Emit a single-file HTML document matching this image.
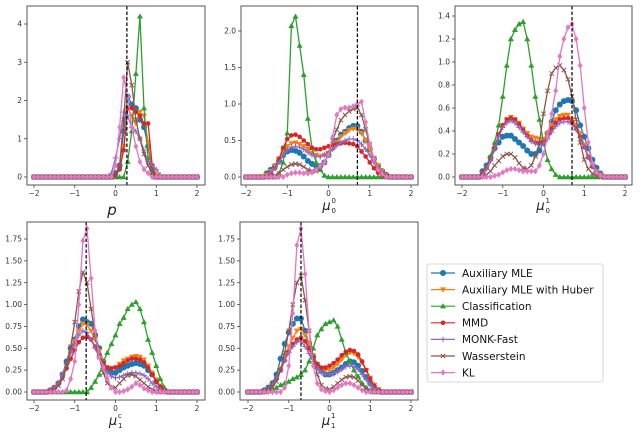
<!DOCTYPE html>
<html><head><meta charset="utf-8">
<style>
body{margin:0;background:#fff;width:640px;height:438px;overflow:hidden}
svg{display:block}
text{font-family:"DejaVu Sans","Liberation Sans",sans-serif}
</style></head>
<body>
<svg id="chart" width="640" height="438" viewBox="0 0 640 438" xmlns="http://www.w3.org/2000/svg"></svg>
<script>
const seriesNames = ["Auxiliary MLE","Auxiliary MLE with Huber","Classification","MMD","MONK-Fast","Wasserstein","KL"];
const xMin = -2, xMax = 2, xStep = 0.1;
const xTicks = [-2,-1,0,1,2];
const trueP = 0.28, trueMu00 = 0.7, trueMu01 = 0.7, trueMu1c = -0.72, trueMu11 = -0.7;

const p_blue   = [0,0,0,0,0,0,0,0,0,0, 0,0,0,0,0,0,0,0,0,0, 0.1,0.3,1.2,2.1,1.9,1.8,1.5,1.3,0.8,0.2, 0,0,0,0,0,0,0,0,0,0,0];
const p_orange = [0,0,0,0,0,0,0,0,0,0, 0,0,0,0,0,0,0,0,0,0, 0.05,0.2,0.8,1.8,1.6,1.4,1.7,1.6,0.9,0.3, 0.05,0,0,0,0,0,0,0,0,0,0];
const p_green  = [0,0,0,0,0,0,0,0,0,0, 0,0,0,0,0,0,0,0,0,0, 0,0,0,0.4,1.2,2.7,4.2,1.8,0.5,0.1, 0,0,0,0,0,0,0,0,0,0,0];
const p_red    = [0,0,0,0,0,0,0,0,0,0, 0,0,0,0,0,0,0,0,0,0, 0.05,0.2,0.7,1.8,1.8,1.7,1.6,1.4,1.4,0.3, 0,0,0,0,0,0,0,0,0,0,0];
const p_purple = [0,0,0,0,0,0,0,0,0,0, 0,0,0,0,0,0,0,0,0,0.1, 0.5,1.0,1.7,1.6,1.3,1.2,1.0,0.7,0.4,0.3, 0.2,0.05,0,0,0,0,0,0,0,0,0];
const p_brown  = [0,0,0,0,0,0,0,0,0,0, 0,0,0,0,0,0,0,0,0,0, 0,0.3,1.5,3.0,2.4,1.5,1.0,0.6,0.3,0.1, 0,0,0,0,0,0,0,0,0,0,0];
const p_pink   = [0,0,0,0,0,0,0,0,0,0, 0,0,0,0,0,0,0,0,0,0, 0.3,1.3,2.6,2.1,1.3,0.8,0.4,0.2,0.1,0, 0,0,0,0,0,0,0,0,0,0,0];

const m00_blue   = [0,0,0,0,0,0.05,0.1,0.15,0.22,0.3, 0.35,0.37,0.36,0.33,0.28,0.22,0.18,0.15,0.15,0.2, 0.3,0.4,0.5,0.58,0.62,0.67,0.7,0.7,0.62,0.5, 0.38,0.25,0.15,0.08,0.03,0,0,0,0,0,0];
const m00_orange = [0,0,0,0,0.01,0.03,0.08,0.15,0.25,0.35, 0.42,0.46,0.47,0.45,0.42,0.38,0.33,0.3,0.28,0.3, 0.33,0.4,0.48,0.55,0.6,0.64,0.66,0.65,0.6,0.5, 0.38,0.26,0.16,0.08,0.03,0,0,0,0,0,0];
const m00_green  = [0,0,0,0,0,0,0,0,0.05,0.2, 0.6,2.07,2.2,1.8,1.4,0.8,0.4,0.2,0.1,0.02, 0,0,0,0,0,0,0,0,0,0, 0,0,0,0,0,0,0,0,0,0,0];
const m00_red    = [0,0,0,0,0,0,0.05,0.12,0.25,0.4, 0.52,0.57,0.58,0.55,0.5,0.45,0.4,0.38,0.38,0.4, 0.42,0.44,0.45,0.46,0.47,0.46,0.45,0.42,0.35,0.28, 0.2,0.12,0.06,0.02,0,0,0,0,0,0,0];
const m00_purple = [0,0,0,0,0,0.02,0.06,0.12,0.2,0.3, 0.37,0.41,0.42,0.41,0.38,0.34,0.3,0.28,0.28,0.3, 0.33,0.38,0.43,0.47,0.5,0.52,0.52,0.5,0.45,0.38, 0.3,0.2,0.12,0.06,0.02,0,0,0,0,0,0];
const m00_brown  = [0,0,0,0,0,0,0,0.02,0.05,0.1, 0.14,0.17,0.18,0.17,0.14,0.1,0.08,0.08,0.12,0.2, 0.32,0.5,0.65,0.78,0.85,0.9,0.93,0.95,0.85,0.65, 0.45,0.25,0.12,0.05,0.02,0,0,0,0,0,0];
const m00_pink   = [0,0,0,0,0,0,0,0,0,0, 0.03,0.05,0.06,0.06,0.05,0.05,0.06,0.1,0.15,0.2, 0.3,0.55,0.85,0.93,0.95,0.95,0.97,1.0,1.03,0.75, 0.45,0.25,0.1,0.04,0,0,0,0,0,0,0];

const m01_blue   = [0,0,0,0,0,0.05,0.1,0.17,0.25,0.3, 0.35,0.36,0.36,0.33,0.3,0.27,0.23,0.2,0.2,0.23, 0.3,0.38,0.48,0.58,0.63,0.66,0.67,0.66,0.58,0.45, 0.35,0.25,0.15,0.08,0.03,0,0,0,0,0,0];
const m01_orange = [0,0,0,0,0,0.03,0.08,0.15,0.25,0.37, 0.45,0.5,0.52,0.5,0.47,0.42,0.38,0.35,0.34,0.33, 0.33,0.38,0.45,0.5,0.53,0.54,0.54,0.5,0.45,0.38, 0.28,0.18,0.1,0.05,0.02,0,0,0,0,0,0];
const m01_green  = [0,0,0,0,0,0.03,0.08,0.18,0.3,0.45, 0.7,0.97,1.2,1.28,1.33,1.35,1.2,0.97,0.7,0.5, 0.3,0.15,0.07,0.02,0,0,0,0,0,0, 0,0,0,0,0,0,0,0,0,0,0];
const m01_red    = [0,0,0,0,0,0.03,0.08,0.15,0.25,0.37, 0.45,0.5,0.51,0.5,0.46,0.41,0.36,0.32,0.3,0.29, 0.3,0.35,0.42,0.47,0.5,0.51,0.51,0.48,0.42,0.35, 0.26,0.17,0.09,0.04,0.01,0,0,0,0,0,0];
const m01_purple = [0,0,0,0,0,0.02,0.07,0.14,0.24,0.35, 0.43,0.47,0.49,0.47,0.43,0.39,0.35,0.31,0.29,0.28, 0.29,0.33,0.39,0.44,0.47,0.48,0.48,0.46,0.41,0.34, 0.26,0.17,0.1,0.05,0.02,0,0,0,0,0,0];
const m01_brown  = [0,0,0,0,0,0,0.02,0.05,0.1,0.14, 0.18,0.2,0.2,0.17,0.12,0.08,0.07,0.1,0.18,0.3, 0.55,0.75,0.9,0.95,0.97,0.93,0.85,0.7,0.5,0.3, 0.15,0.07,0.03,0.01,0,0,0,0,0,0,0];
const m01_pink   = [0,0,0,0,0,0,0,0,0.01,0.02, 0.04,0.06,0.07,0.07,0.06,0.05,0.05,0.05,0.05,0.1, 0.2,0.35,0.55,0.75,1.05,1.2,1.3,1.33,1.2,0.97, 0.6,0.3,0.12,0.04,0.01,0,0,0,0,0,0];

const m1c_blue   = [0,0,0,0,0.02,0.05,0.1,0.2,0.35,0.5, 0.6,0.75,0.83,0.8,0.78,0.65,0.5,0.35,0.25,0.22, 0.22,0.25,0.28,0.3,0.32,0.33,0.32,0.3,0.25,0.2, 0.12,0.06,0.02,0,0,0,0,0,0,0,0];
const m1c_orange = [0,0,0,0,0.02,0.05,0.1,0.18,0.3,0.45, 0.58,0.7,0.78,0.77,0.7,0.6,0.47,0.35,0.28,0.27, 0.28,0.32,0.36,0.38,0.4,0.41,0.4,0.37,0.3,0.22, 0.14,0.07,0.02,0,0,0,0,0,0,0,0];
const m1c_green  = [0,0,0,0,0,0,0,0,0,0, 0,0,0,0,0.05,0.12,0.2,0.35,0.45,0.55, 0.65,0.78,0.85,0.95,1.0,1.03,0.95,0.8,0.6,0.45, 0.3,0.15,0.05,0,0,0,0,0,0,0,0];
const m1c_red    = [0,0,0,0,0.02,0.05,0.1,0.17,0.27,0.38, 0.48,0.57,0.62,0.63,0.6,0.52,0.42,0.33,0.28,0.27, 0.28,0.3,0.33,0.36,0.38,0.38,0.37,0.34,0.28,0.2, 0.12,0.06,0.02,0,0,0,0,0,0,0,0];
const m1c_purple = [0,0,0,0,0.02,0.05,0.1,0.2,0.32,0.45, 0.55,0.65,0.7,0.68,0.6,0.5,0.4,0.3,0.22,0.18, 0.16,0.17,0.19,0.21,0.22,0.22,0.21,0.19,0.15,0.1, 0.06,0.03,0.01,0,0,0,0,0,0,0,0];
const m1c_brown  = [0,0,0,0,0.01,0.03,0.07,0.15,0.3,0.52, 0.8,1.15,1.37,1.25,0.95,0.65,0.4,0.22,0.1,0.05, 0.05,0.1,0.15,0.19,0.2,0.18,0.14,0.1,0.06,0.03, 0.01,0,0,0,0,0,0,0,0,0,0];
const m1c_pink   = [0,0,0,0,0,0,0,0,0.02,0.15, 0.35,1.0,1.73,1.87,1.3,0.7,0.4,0.28,0.15,0.05, 0,0,0.01,0.03,0.06,0.1,0.08,0.04,0.02,0, 0,0,0,0,0,0,0,0,0,0,0];

const m11_blue   = [0,0,0,0,0.02,0.05,0.1,0.2,0.38,0.55, 0.68,0.78,0.84,0.84,0.7,0.55,0.4,0.3,0.24,0.2, 0.2,0.22,0.25,0.28,0.32,0.35,0.34,0.3,0.24,0.17, 0.1,0.05,0.02,0,0,0,0,0,0,0,0];
const m11_orange = [0,0,0,0,0.01,0.03,0.08,0.15,0.27,0.4, 0.52,0.62,0.7,0.72,0.65,0.55,0.42,0.32,0.27,0.25, 0.25,0.28,0.32,0.37,0.42,0.45,0.44,0.4,0.33,0.25, 0.16,0.08,0.03,0,0,0,0,0,0,0,0];
const m11_green  = [0,0,0,0,0,0.01,0.03,0.05,0.08,0.1, 0.12,0.15,0.17,0.2,0.25,0.35,0.5,0.65,0.72,0.78, 0.8,0.82,0.75,0.6,0.45,0.35,0.25,0.18,0.1,0.05, 0.02,0,0,0,0,0,0,0,0,0,0];
const m11_red    = [0,0,0,0,0.01,0.03,0.08,0.15,0.25,0.36, 0.46,0.55,0.6,0.62,0.58,0.5,0.4,0.32,0.28,0.28, 0.3,0.33,0.37,0.42,0.46,0.48,0.47,0.43,0.35,0.25, 0.15,0.07,0.02,0,0,0,0,0,0,0,0];
const m11_purple = [0,0,0,0,0.01,0.03,0.08,0.15,0.25,0.36, 0.45,0.52,0.57,0.58,0.52,0.44,0.35,0.27,0.22,0.2, 0.2,0.21,0.23,0.26,0.29,0.3,0.29,0.26,0.2,0.14, 0.08,0.04,0.01,0,0,0,0,0,0,0,0];
const m11_brown  = [0,0,0,0,0.01,0.03,0.06,0.12,0.25,0.45, 0.7,1.0,1.25,1.33,1.05,0.7,0.4,0.2,0.08,0.04, 0.03,0.06,0.1,0.14,0.17,0.18,0.17,0.13,0.08,0.04, 0.01,0,0,0,0,0,0,0,0,0,0];
const m11_pink   = [0,0,0,0,0,0,0,0,0,0.05, 0.3,0.9,1.68,1.87,1.35,0.7,0.3,0.1,0.03,0.01, 0,0.02,0.05,0.08,0.1,0.1,0.08,0.05,0.02,0, 0,0,0,0,0,0,0,0,0,0,0];

const yTicksP = [0,1,2,3,4];
const yTicksM00 = [0,0.5,1.0,1.5,2.0];
const yTicksM01 = [0,0.2,0.4,0.6,0.8,1.0,1.2,1.4];
const yTicksM1 = [0,0.25,0.5,0.75,1.0,1.25,1.5,1.75];

const colors = ["#1f77b4","#ff7f0e","#2ca02c","#d62728","#9467bd","#8c564b","#e377c2"];
const markers = ["o","v","^","o2","+","x","d"];
const NS = "http://www.w3.org/2000/svg";
const svg = document.getElementById("chart");
function mk(tag, attrs, parent){const e=document.createElementNS(NS,tag);for(const k in attrs)e.setAttribute(k,attrs[k]);(parent||svg).appendChild(e);return e;}

const panels = [
 {key:"p",box:[27,205,6,185],xa:34,xb:197,y0:177,yr:4,yrp:24,ticks:yTicksP,dec:0,truth:trueP,data:[p_blue,p_orange,p_green,p_red,p_purple,p_brown,p_pink],label:"p",sup:"",sub:""},
 {key:"mu00",box:[241,418,6,185],xa:246,xb:411,y0:177,yr:2,yrp:31,ticks:yTicksM00,dec:1,truth:trueMu00,data:[m00_blue,m00_orange,m00_green,m00_red,m00_purple,m00_brown,m00_pink],label:"μ",sup:"0",sub:"0"},
 {key:"mu01",box:[455,632,6,185],xa:462,xb:625,y0:177,yr:1.4,yrp:16,ticks:yTicksM01,dec:1,truth:trueMu01,data:[m01_blue,m01_orange,m01_green,m01_red,m01_purple,m01_brown,m01_pink],label:"μ",sup:"1",sub:"0"},
 {key:"mu1c",box:[27,205,222,400],xa:34,xb:197,y0:392,yr:1.75,yrp:239,ticks:yTicksM1,dec:2,truth:trueMu1c,data:[m1c_blue,m1c_orange,m1c_green,m1c_red,m1c_purple,m1c_brown,m1c_pink],label:"μ",sup:"c",sub:"1"},
 {key:"mu11",box:[240,418,222,400],xa:248,xb:411,y0:392,yr:1.75,yrp:239,ticks:yTicksM1,dec:2,truth:trueMu11,data:[m11_blue,m11_orange,m11_green,m11_red,m11_purple,m11_brown,m11_pink],label:"μ",sup:"1",sub:"1"}
];

function drawMarker(g, type, x, y, c){
  let m;
  if(type==="o") m=mk("circle",{cx:x,cy:y,r:3,fill:c},g);
  else if(type==="o2") m=mk("circle",{cx:x,cy:y,r:2.3,fill:c},g);
  else if(type==="v") m=mk("polygon",{points:`${x-3},${y-2.2} ${x+3},${y-2.2} ${x},${y+3}`,fill:c},g);
  else if(type==="^") m=mk("polygon",{points:`${x-3},${y+2.2} ${x+3},${y+2.2} ${x},${y-3}`,fill:c},g);
  else if(type==="d") m=mk("polygon",{points:`${x},${y-3.2} ${x+2.4},${y} ${x},${y+3.2} ${x-2.4},${y}`,fill:c},g);
  else if(type==="+") m=mk("path",{d:`M${x-2.8},${y}H${x+2.8}M${x},${y-2.8}V${y+2.8}`,stroke:c,"stroke-width":1},g);
  else m=mk("path",{d:`M${x-2.2},${y-2.2}L${x+2.2},${y+2.2}M${x-2.2},${y+2.2}L${x+2.2},${y-2.2}`,stroke:c,"stroke-width":1},g);
  return m;
}

panels.forEach(P=>{
  const g = mk("g",{});
  
  
  const [x1,x2,y1,y2]=P.box;
  const xs = v => P.xa + (v - xMin)/(xMax - xMin)*(P.xb - P.xa);
  const ys = v => P.y0 - v/P.yr*(P.y0 - P.yrp);
  P.data.forEach((arr,si)=>{
    const sg = mk("g",{},g);
    
    
    let d="";
    arr.forEach((v,i)=>{const xv=xMin+i*xStep;d+=(i?"L":"M")+xs(xv).toFixed(1)+","+ys(v).toFixed(1);});
    mk("path",{d:d,fill:"none",stroke:colors[si],"stroke-width":1.3,"stroke-linejoin":"round"},sg);
    arr.forEach((v,i)=>{const xv=xMin+i*xStep;drawMarker(sg,markers[si],xs(xv),ys(v),colors[si]);});
  });
  const tl = mk("line",{x1:xs(P.truth),x2:xs(P.truth),y1:y1,y2:y2,stroke:"#000","stroke-width":1.2,"stroke-dasharray":"3.5,2"},g);
  
  
  const fr = mk("rect",{x:x1,y:y1,width:x2-x1,height:y2-y1,fill:"none",stroke:"#444","stroke-width":0.9},g);
  
  
  xTicks.forEach(t=>{
    const x=xs(t);
    mk("line",{x1:x,x2:x,y1:y2,y2:y2+3,stroke:"#444","stroke-width":0.8},g);
    const tx=mk("text",{x:x,y:y2+11,"font-size":7.5,fill:"#333","text-anchor":"middle"},g);
    tx.textContent = t<0 ? "−"+Math.abs(t) : String(t);
    
    
  });
  P.ticks.forEach(t=>{
    const y=ys(t);
    mk("line",{x1:x1-3,x2:x1,y1:y,y2:y,stroke:"#444","stroke-width":0.8},g);
    const tx=mk("text",{x:x1-5,y:y+2.6,"font-size":7.5,fill:"#333","text-anchor":"end"},g);
    tx.textContent = t.toFixed(P.dec);
    
    
  });
  const cx=(x1+x2)/2;
  if(!P.sup){
    const lab=mk("text",{x:cx-4,y:y2+30,"font-size":15,fill:"#222","font-style":"italic","text-anchor":"middle"},g);
    lab.textContent=P.label;
    
    
  } else {
    const lab=mk("text",{x:cx-3,y:y2+25,"font-size":13,fill:"#222","font-style":"italic","text-anchor":"middle"},g);
    lab.textContent=P.label;
    
    
    const s1=mk("text",{x:cx+2,y:y2+18,"font-size":7,fill:"#222"},g);
    s1.textContent=P.sup;
    
    
    const s2=mk("text",{x:cx+2,y:y2+28,"font-size":7,fill:"#222"},g);
    s2.textContent=P.sub;
    
    
  }
});

const lg = mk("g",{});


mk("rect",{x:427,y:264,width:176,height:118,rx:2,fill:"#fff",stroke:"#ccc","stroke-width":0.8},lg);
seriesNames.forEach((n,i)=>{
  const y=273+i*16.6;
  const e=mk("g",{},lg);
  
  
  mk("line",{x1:431,x2:455,y1:y,y2:y,stroke:colors[i],"stroke-width":1.2},e);
  drawMarker(e,markers[i],443,y,colors[i]);
  const t=mk("text",{x:462,y:y+3.8,"font-size":10.5,fill:"#111"},e);
  t.textContent=n;
});
</script>
</body></html>
